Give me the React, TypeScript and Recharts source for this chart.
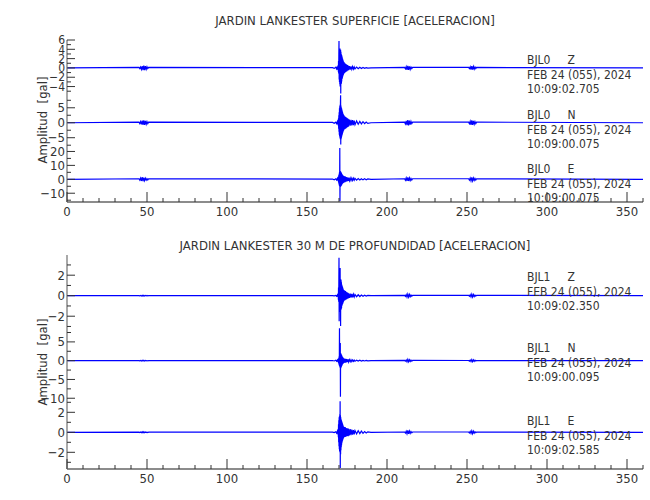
import React from "react";
import { LineChart, Line, XAxis, YAxis } from "recharts";

const FONT = '"Liberation Sans Narrow", "DejaVu Sans Condensed", "Arial Narrow", sans-serif';
const INK = "#333";
const FRAME = "#8c8c8c";
const TRACE = "#0000ff";

// shared sample times (s)
const edgeTimes = [0, 360];
const bumpTimes = [
  45, 45.5, 46, 46.5, 47, 47.5, 48, 48.5, 49, 49.5, 50, 50.5, 51,
  211, 211.5, 212, 212.5, 213, 213.5, 214, 214.5, 215, 215.5, 216,
  251, 251.5, 252, 252.5, 253, 253.5, 254, 254.5, 255, 255.5, 256,
];
const eventTimes = [
  166, 167, 168, 168.5, 169, 169.3, 169.5,
  169.6, 169.7, 169.8, 169.9, 170, 170.1, 170.2, 170.3, 170.4, 170.5, 170.6,
  170.7, 170.8, 170.9, 171, 171.1, 171.2, 171.3, 171.4, 171.5, 171.6, 171.7,
  171.8, 171.9, 172, 172.1, 172.2, 172.3, 172.4, 172.5, 172.6, 172.7, 172.8,
  173, 173.25, 173.5, 173.75, 174, 174.25, 174.5, 174.75, 175, 175.25, 175.5, 175.75, 176,
  176.5, 177, 177.5, 178, 178.5, 179, 179.5, 180,
  181, 182, 183, 184, 185, 186, 187, 188,
  190,
];

const xTicks = [0, 10, 20, 30, 40, 50, 60, 70, 80, 90, 100, 110, 120, 130, 140, 150, 160, 170, 180,
  190, 200, 210, 220, 230, 240, 250, 260, 270, 280, 290, 300, 310, 320, 330, 340, 350, 360];
const xLabelTicks = [0, 50, 100, 150, 200, 250, 300, 350];

// BJL0 (superficie)
const bjl0ZEvent = [
  0.05, -0.1, 0.15, -0.2, 0.3, -0.4, 0.6,
  -0.8, 1.5, -1.2, 2.5, 5.8, -2.5, 3.2, -3.0, 3.8, -3.5, 4.2, -4.0, 3.6, -3.8, 3.9, -5.5, 3.5,
  -3.2, 3.0, -3.4, 2.8, -2.9, 2.6, -2.4, 2.3, -2.2, 2.0, -1.9, 1.8, -1.7, 1.6, -1.5, 1.4,
  -1.3, 1.2, -1.1, 1.0, -0.9, 0.85, -0.8, 0.75, -0.7, 0.6, -0.55, 0.5, -0.45,
  0.4, -0.38, 0.35, -0.3, 0.28, -0.25, 0.22, -0.2,
  0.18, -0.16, 0.14, -0.12, 0.1, -0.08, 0.07, -0.05,
  0,
];
const bjl0ZBumps = [
  0.1, -0.15, 0.2, -0.3, 0.4, -0.45, 0.5, -0.45, 0.4, -0.3, 0.25, -0.15, 0.1,
  0.1, -0.2, 0.3, -0.4, 0.45, -0.4, 0.35, -0.3, 0.2, -0.15, 0.1,
  0.1, -0.15, 0.25, -0.35, 0.4, -0.35, 0.3, -0.25, 0.2, -0.15, 0.1,
];
const bjl0NEvent = [
  0.1, -0.15, 0.2, -0.3, 0.4, -0.6, 0.8,
  -1.0, 1.5, -2.0, 2.5, -3.0, 3.5, -4.0, 4.8, -4.5, 5.5, -5.0, 6.0, -5.5, 6.5, 9.2, -7.3, 5.8,
  -5.5, 5.2, -5.0, 4.8, -4.6, 4.4, -4.2, 4.0, -3.8, 3.6, -3.4, 3.2, -3.0, 2.9, -2.8, 2.7,
  -2.5, 2.4, -2.2, 2.1, -2.0, 1.9, -1.8, 1.7, -1.6, 1.5, -1.4, 1.3, -1.2,
  1.1, -1.0, 0.95, -0.9, 0.85, -0.8, 0.7, -0.65,
  0.6, -0.5, 0.45, -0.4, 0.35, -0.3, 0.25, -0.2,
  0,
];
const bjl0NBumps = [
  0.2, -0.3, 0.4, -0.55, 0.7, -0.75, 0.8, -0.7, 0.6, -0.5, 0.4, -0.3, 0.2,
  0.2, -0.4, 0.6, -0.8, 0.9, -0.85, 0.7, -0.6, 0.45, -0.3, 0.2,
  0.2, -0.3, 0.5, -0.7, 0.8, -0.7, 0.6, -0.5, 0.4, -0.3, 0.2,
];
const bjl0EEvent = [
  0.2, -0.3, 0.4, -0.5, 0.7, -1.0, 1.3,
  -1.6, 2.0, -2.5, 3.0, -3.5, 4.0, -4.5, 5.0, -5.0, 22.5, -16.0, 6.0, -5.5, 5.8, -5.2, 5.5, -5.0,
  5.0, -4.6, 4.5, -4.2, 4.0, -3.8, 3.6, -3.4, 3.2, -3.0, 2.9, -2.8, 2.7, -2.6, 2.5, -2.4,
  2.3, -2.2, 2.1, -2.0, 1.9, -1.8, 1.7, -1.6, 1.5, -1.4, 1.3, -1.2, 1.1,
  -1.0, 0.95, -0.9, 0.85, -0.8, 0.75, -0.7, 0.65,
  -0.6, 0.55, -0.5, 0.45, -0.4, 0.35, -0.3, 0.25,
  0,
];
const bjl0EBumps = [
  0.4, -0.6, 0.9, -1.2, 1.5, -1.4, 1.2, -1.0, 0.8, -0.6, 0.5, -0.4, 0.3,
  0.4, -0.7, 1.0, -1.2, 1.3, -1.2, 1.0, -0.8, 0.6, -0.5, 0.4,
  0.4, -0.6, 0.9, -1.1, 1.3, -1.1, 0.9, -0.7, 0.6, -0.5, 0.4,
];

// BJL1 (30 m)
const bjl1ZEvent = [
  0.01, -0.02, 0.03, -0.05, 0.08, -0.12, 0.2,
  -0.4, 0.8, -0.6, 1.2, 3.7, -2.5, 1.3, -1.2, 1.6, -1.5, 1.4, 2.7, -1.6, 1.5, -2.95, 1.6, -1.4,
  1.5, -1.3, 1.3, -1.2, 1.1, -1.0, 1.0, -0.9, 0.9, -0.8, 0.8, -0.75, 0.7, -0.65, 0.6, -0.6,
  0.55, -0.5, 0.5, -0.45, 0.45, -0.4, 0.38, -0.35, 0.33, -0.3, 0.28, -0.26, 0.24,
  -0.22, 0.2, -0.18, 0.17, -0.15, 0.14, -0.12, 0.11,
  -0.1, 0.09, -0.08, 0.07, -0.06, 0.05, -0.04, 0.03,
  0,
];
const bjl1ZBumps = [
  0.01, -0.02, 0.02, -0.03, 0.04, -0.04, 0.04, -0.03, 0.03, -0.02, 0.02, -0.01, 0.01,
  0.03, -0.06, 0.1, -0.14, 0.16, -0.14, 0.12, -0.1, 0.07, -0.05, 0.03,
  0.03, -0.05, 0.09, -0.12, 0.15, -0.13, 0.11, -0.09, 0.06, -0.04, 0.03,
];
const bjl1NEvent = [
  0.05, -0.08, 0.1, -0.15, 0.2, -0.3, 0.4,
  -0.5, 0.6, -0.7, 0.8, -1.0, 1.2, -1.3, 8.6, -1.5, 1.6, -1.8, 1.9, 4.7, -9.6, 2.0, -2.0, 1.9,
  -1.8, 1.7, -1.6, 1.5, -1.4, 1.3, -1.2, 1.1, -1.0, 0.95, -0.9, 0.85, -0.8, 0.75, -0.7, 0.65,
  -0.6, 0.58, -0.55, 0.52, -0.5, 0.48, -0.45, 0.42, -0.4, 0.38, -0.35, 0.33, -0.3,
  0.28, -0.26, 0.24, -0.22, 0.2, -0.18, 0.16, -0.15,
  0.14, -0.12, 0.11, -0.1, 0.09, -0.08, 0.07, -0.06,
  0,
];
const bjl1NBumps = [
  0.03, -0.05, 0.07, -0.09, 0.1, -0.1, 0.09, -0.08, 0.07, -0.05, 0.04, -0.03, 0.02,
  0.06, -0.12, 0.2, -0.28, 0.35, -0.3, 0.25, -0.2, 0.15, -0.1, 0.06,
  0.05, -0.1, 0.17, -0.24, 0.3, -0.26, 0.22, -0.17, 0.12, -0.08, 0.05,
];
const bjl1EEvent = [
  0.02, -0.03, 0.05, -0.08, 0.12, -0.2, 0.3,
  -0.5, 0.8, -1.0, 1.2, -1.4, 1.5, -1.7, 1.6, -1.9, 1.8, -2.0, 3.1, -3.6, 1.7, -2.2, 1.5, -1.8,
  1.3, -1.5, 1.2, -1.3, 1.1, -1.1, 1.0, -0.95, 0.9, -0.85, 0.8, -0.75, 0.7, -0.65, 0.6, -0.6,
  0.55, -0.5, 0.52, -0.48, 0.5, -0.45, 0.42, -0.4, 0.38, -0.36, 0.4, -0.38, 0.34,
  -0.3, 0.32, -0.28, 0.26, -0.24, 0.22, -0.2, 0.18,
  -0.16, 0.15, -0.13, 0.12, -0.1, 0.08, -0.06, 0.05,
  0,
];
const bjl1EBumps = [
  0.01, -0.02, 0.03, -0.04, 0.05, -0.05, 0.05, -0.04, 0.03, -0.03, 0.02, -0.02, 0.01,
  0.03, -0.07, 0.11, -0.15, 0.18, -0.16, 0.13, -0.1, 0.08, -0.05, 0.03,
  0.03, -0.06, 0.09, -0.12, 0.15, -0.13, 0.11, -0.08, 0.06, -0.04, 0.03,
];

const panels = [
  { station: "BJL0     Z", date: "FEB 24 (055), 2024", time: "10:09:02.705", event: bjl0ZEvent, bumps: bjl0ZBumps,
    domain: [-5.6, 6], major: [-4, -2, 0, 2, 4, 6], minor: [-5, -3, -1, 1, 3, 5] },
  { station: "BJL0     N", date: "FEB 24 (055), 2024", time: "10:09:00.075", event: bjl0NEvent, bumps: bjl0NBumps,
    domain: [-8.1, 9.6], major: [-5, 0, 5], minor: [-7.5, -2.5, 2.5, 7.5] },
  { station: "BJL0     E", date: "FEB 24 (055), 2024", time: "10:09:00.075", event: bjl0EEvent, bumps: bjl0EBumps,
    domain: [-16.3, 23.2], major: [-10, 0, 10, 20], minor: [-15, -5, 5, 15] },
  { station: "BJL1     Z", date: "FEB 24 (055), 2024", time: "10:09:02.350", event: bjl1ZEvent, bumps: bjl1ZBumps,
    domain: [-3.15, 3.97], major: [-2, 0, 2], minor: [-3, -1, 1, 3] },
  { station: "BJL1     N", date: "FEB 24 (055), 2024", time: "10:09:00.095", event: bjl1NEvent, bumps: bjl1NBumps,
    domain: [-10.2, 8.7], major: [-10, -5, 0, 5], minor: [-7.5, -2.5, 2.5, 7.5] },
  { station: "BJL1     E", date: "FEB 24 (055), 2024", time: "10:09:02.585", event: bjl1EEvent, bumps: bjl1EBumps,
    domain: [-3.67, 3.33], major: [-2, 0, 2], minor: [-3, -1, 1, 3] },
];

const titles = [
  "JARDIN LANKESTER SUPERFICIE [ACELERACION]",
  "JARDIN LANKESTER 30 M DE PROFUNDIDAD [ACELERACION]",
];

// page layout (px)
const boxes = [
  { top: 40, bottom: 94, textTop: 53, last: false, labelSize: 12 },
  { top: 94, bottom: 147, textTop: 108, last: false, labelSize: 13 },
  { top: 147, bottom: 202, textTop: 162, last: true, labelSize: 13 },
  { top: 255, bottom: 328, textTop: 270, last: false, labelSize: 13 },
  { top: 328, bottom: 399, textTop: 341, last: false, labelSize: 13 },
  { top: 399, bottom: 469, textTop: 414, last: true, labelSize: 13 },
];
const titleY = [20, 245];
const ampLabelY = [120, 362];
const PLOT_LEFT = 67;
const PLOT_RIGHT = 643;

function buildTrace(event: number[], bumps: number[]) {
  const pts = [
    ...edgeTimes.map((t) => ({ t, v: 0 })),
    ...bumpTimes.map((t, i) => ({ t, v: bumps[i] })),
    ...eventTimes.map((t, i) => ({ t, v: event[i] })),
  ];
  return pts.sort((a, b) => a.t - b.t);
}

const fmt = (v: number) => (v < 0 ? "\u2212" + Math.abs(v) : String(v));

function Panel({ cfg, box }: any) {
  const padTop = 10;
  const padBottom = box.last ? 26 : 8;
  const h = box.bottom - box.top + padTop + padBottom;
  const data = buildTrace(cfg.event, cfg.bumps);
  const yTicks = [...cfg.major, ...cfg.minor].sort((a, b) => a - b);
  const isMajor = (v: number) => cfg.major.includes(v);

  const topTick = (p: any) => {
    const len = p.payload.value % 50 === 0 ? 10 : 4;
    return <line x1={p.x} x2={p.x} y1={p.y} y2={p.y + len} stroke={INK} strokeWidth={1} />;
  };
  const bottomTick = (p: any) => {
    const v = p.payload.value;
    const major = v % 50 === 0;
    return (
      <g>
        <line x1={p.x} x2={p.x} y1={p.y} y2={p.y - (major ? 10 : 4)} stroke={INK} strokeWidth={1} />
        {xLabelTicks.includes(v) && (
          <text x={p.x} y={p.y + 14} textAnchor="middle" fontFamily={FONT} fontSize={13} fill={INK}>
            {v}
          </text>
        )}
      </g>
    );
  };
  const leftTick = (p: any) => {
    const v = p.payload.value;
    const major = isMajor(v);
    return (
      <g>
        <line x1={p.x} x2={p.x + (major ? 8 : 4)} y1={p.y} y2={p.y} stroke={INK} strokeWidth={1} />
        {major && (
          <text x={p.x - 2} y={p.y + box.labelSize * 0.35} textAnchor="end" fontFamily={FONT} fontSize={box.labelSize} fill={INK}>
            {fmt(v)}
          </text>
        )}
      </g>
    );
  };
  const rightTick = (p: any) => {
    const len = isMajor(p.payload.value) ? 8 : 4;
    return <line x1={p.x} x2={p.x - len} y1={p.y} y2={p.y} stroke={INK} strokeWidth={1} />;
  };

  return (
    <div style={{ position: "absolute", left: 0, top: box.top - padTop }}>
      <LineChart
        width={650}
        height={h}
        data={data}
        margin={{ top: padTop, right: 650 - PLOT_RIGHT, bottom: box.last ? 0 : padBottom, left: 0 }}
      >
        <XAxis
          xAxisId={0}
          dataKey="t"
          type="number"
          domain={[0, 360]}
          ticks={xTicks}
          interval={0}
          orientation="top"
          height={0}
          tickSize={0}
          tickMargin={0}
          tickLine={false}
          axisLine={{ stroke: FRAME, strokeWidth: 2 }}
          tick={topTick}
          allowDataOverflow
        />
        {box.last && (
          <XAxis
            xAxisId="b"
            dataKey="t"
            type="number"
            domain={[0, 360]}
            ticks={xTicks}
            interval={0}
            orientation="bottom"
            height={26}
            tickSize={0}
            tickMargin={0}
            tickLine={false}
            axisLine={{ stroke: FRAME, strokeWidth: 2 }}
            tick={bottomTick}
            allowDataOverflow
          />
        )}
        <YAxis
          yAxisId={0}
          type="number"
          domain={cfg.domain}
          ticks={yTicks}
          interval={0}
          orientation="left"
          width={PLOT_LEFT}
          tickSize={0}
          tickMargin={0}
          tickLine={false}
          axisLine={{ stroke: FRAME, strokeWidth: 1.5 }}
          tick={leftTick}
          allowDataOverflow
        />
        <YAxis
          yAxisId="r"
          type="number"
          domain={cfg.domain}
          ticks={yTicks}
          interval={0}
          orientation="right"
          width={0}
          tickSize={0}
          tickMargin={0}
          tickLine={false}
          axisLine={{ stroke: FRAME, strokeWidth: 1.5 }}
          tick={rightTick}
          allowDataOverflow
        />
        <Line
          xAxisId={0}
          yAxisId={0}
          type="linear"
          dataKey="v"
          stroke={TRACE}
          strokeWidth={1.2}
          dot={false}
          activeDot={false}
          isAnimationActive={false}
        />
      </LineChart>
    </div>
  );
}

export default function App() {
  const textStyle: React.CSSProperties = { fontFamily: FONT, fontSize: 13, color: INK, whiteSpace: "pre" };
  return (
    <div style={{ position: "absolute", left: 0, top: 0, width: 650, height: 500, background: "#fff" }}>
      {titles.map((t, i) => (
        <div
          key={t}
          style={{ ...textStyle, position: "absolute", left: (PLOT_LEFT + PLOT_RIGHT) / 2, top: titleY[i], transform: "translate(-50%, -50%)" }}
        >
          {t}
        </div>
      ))}
      {ampLabelY.map((y) => (
        <div
          key={y}
          style={{ ...textStyle, position: "absolute", left: 42, top: y, transform: "translate(-50%, -50%) rotate(-90deg)" }}
        >
          Amplitud  [gal]
        </div>
      ))}
      {panels.map((cfg, i) => (
        <Panel key={cfg.station + i} cfg={cfg} box={boxes[i]} />
      ))}
      {panels.map((cfg, i) => (
        <div
          key={"txt" + i}
          style={{ ...textStyle, fontSize: 12, position: "absolute", left: 527, top: boxes[i].textTop, lineHeight: "14.5px" }}
        >
          {cfg.station + "\n" + cfg.date + "\n" + cfg.time}
        </div>
      ))}
    </div>
  );
}
